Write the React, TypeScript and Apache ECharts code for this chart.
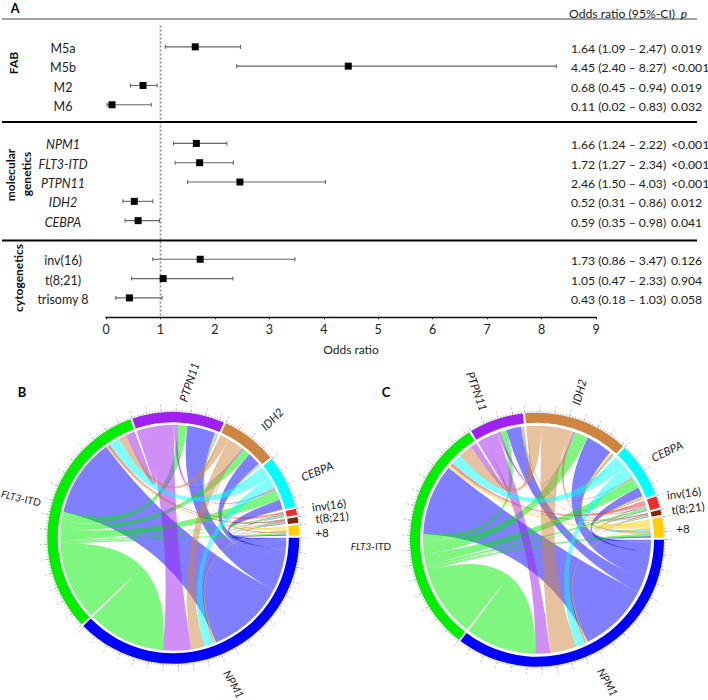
import React, { useEffect, useRef } from "react";
import * as echarts from "echarts";

// ---------- Panel A data ----------
const rowLabels = ["M5a", "M5b", "M2", "M6", "NPM1", "FLT3-ITD", "PTPN11", "IDH2", "CEBPA", "inv(16)", "t(8;21)", "trisomy 8"];
const rowSlots = [0, 1, 2, 3, 5, 6, 7, 8, 9, 11, 12, 13];
const oddsRatio = [1.64, 4.45, 0.68, 0.11, 1.66, 1.72, 2.46, 0.52, 0.59, 1.73, 1.05, 0.43];
const ciLow = [1.09, 2.4, 0.45, 0.02, 1.24, 1.27, 1.5, 0.31, 0.35, 0.86, 0.47, 0.18];
const ciHigh = [2.47, 8.27, 0.94, 0.83, 2.22, 2.34, 4.03, 0.86, 0.98, 3.47, 2.33, 1.03];
const pValues = ["0.019", "<0.001", "0.019", "0.032", "<0.001", "<0.001", "<0.001", "0.012", "0.041", "0.126", "0.904", "0.058"];
const italicRows = [4, 5, 6, 7, 8];
const fmt = (v: number) => v.toFixed(2);

// ---------- Panels B, C data ----------
const sectorNames = ["NPM1", "FLT3-ITD", "PTPN11", "IDH2", "CEBPA", "inv(16)", "t(8;21)", "+8"];
const sectorColors = ["#0000ff", "#00ee00", "#a020f0", "#cd853f", "#00ffff", "#ee2c2c", "#8b2500", "#ffd000"];
const matrixB = [
  [0, 40, 14.3, 6.7, 5, 0.3, 0.3, 0.7],
  [40, 0, 4.8, 4, 5.5, 0.8, 0.5, 0.7],
  [14.3, 4.8, 0, 0.8, 0.7, 0.2, 0.05, 0.3],
  [6.7, 4, 0.8, 0, 0.6, 0.05, 0.2, 0.4],
  [5, 5.5, 0.7, 0.6, 0, 0.05, 0.1, 0.1],
  [0.3, 0.8, 0.2, 0.05, 0.05, 0, 0, 0],
  [0.3, 0.5, 0.05, 0.2, 0.1, 0, 0, 0.2],
  [0.7, 0.7, 0.3, 0.4, 0.1, 0, 0.2, 0],
];
const matrixC = [
  [0, 36, 7.5, 13.4, 4.8, 0.4, 0.3, 0.8],
  [36, 0, 3.2, 7, 5.5, 1.2, 0.3, 1.4],
  [7.5, 3.2, 0, 0.8, 0.3, 0.3, 0.05, 0.2],
  [13.4, 7, 0.8, 0, 0.7, 0.4, 0.3, 1.3],
  [4.8, 5.5, 0.3, 0.7, 0, 0.3, 0.2, 0.8],
  [0.4, 1.2, 0.3, 0.4, 0.3, 0, 0, 0.1],
  [0.3, 0.3, 0.05, 0.3, 0.2, 0, 0, 0.02],
  [0.8, 1.4, 0.2, 1.3, 0.8, 0.1, 0.02, 0],
];

const FONT = "Lato, 'Open Sans', sans-serif";
const DEG = Math.PI / 180;

echarts.graphic.registerShape(
  "chordRibbon",
  (echarts.graphic as any).extendShape({
    shape: { cx: 0, cy: 0, r: 1, a0: 0, a1: 0, b0: 0, b1: 0 },
    buildPath(ctx: any, s: any) {
      ctx.moveTo(s.cx + s.r * Math.cos(s.a0), s.cy + s.r * Math.sin(s.a0));
      ctx.arc(s.cx, s.cy, s.r, s.a0, s.a1, false);
      ctx.quadraticCurveTo(s.cx, s.cy, s.cx + s.r * Math.cos(s.b0), s.cy + s.r * Math.sin(s.b0));
      ctx.arc(s.cx, s.cy, s.r, s.b0, s.b1, false);
      ctx.quadraticCurveTo(s.cx, s.cy, s.cx + s.r * Math.cos(s.a0), s.cy + s.r * Math.sin(s.a0));
      ctx.closePath();
    },
  })
);
echarts.graphic.registerShape(
  "tickFan",
  (echarts.graphic as any).extendShape({
    shape: { cx: 0, cy: 0, angles: [] as number[], r0: 0, r1: 0 },
    buildPath(ctx: any, s: any) {
      for (const a of s.angles) {
        ctx.moveTo(s.cx + s.r0 * Math.cos(a), s.cy + s.r0 * Math.sin(a));
        ctx.lineTo(s.cx + s.r1 * Math.cos(a), s.cy + s.r1 * Math.sin(a));
      }
    },
  })
);

type Geo = { cx: number; cy: number; R: number; r0: number; rib: number };

function layoutChord(m: number[][], gapDeg: number) {
  const n = m.length;
  const sizes = m.map((row) => 2 * row.reduce((a, b) => a + b, 0));
  const total = sizes.reduce((a, b) => a + b, 0);
  const k = (360 - gapDeg * n) / total;
  const sectors: { start: number; end: number }[] = [];
  const out: number[][][] = m.map(() => []);
  const inc: number[][][] = m.map(() => []);
  let a = 0;
  for (let i = 0; i < n; i++) {
    const start = a;
    for (let step = 1; step < n; step++) {
      const j = (i - step + n) % n;
      out[i][j] = [a, a + m[i][j] * k];
      a += m[i][j] * k;
    }
    for (let step = 1; step < n; step++) {
      const j = (i - step + n) % n;
      inc[i][j] = [a, a + m[i][j] * k];
      a += m[i][j] * k;
    }
    sectors.push({ start, end: a });
    a += gapDeg;
  }
  const links: { from: number; to: number }[] = [];
  for (let i = 0; i < n; i++) for (let j = 0; j < n; j++) if (i !== j && m[i][j] > 0) links.push({ from: i, to: j });
  return { sectors, out, inc, links };
}

function chordSeries(m: number[][], g: Geo, id: string): any[] {
  const { sectors, out, inc, links } = layoutChord(m, 1);
  const minor: number[] = [];
  const major: number[] = [];
  sectors.forEach((s) => {
    let c = 0;
    for (let a = s.start; a <= s.end; a += 1.35, c++) (c % 5 === 0 ? major : minor).push(a * DEG);
  });
  return [
    {
      type: "custom",
      id: id + "-links",
      coordinateSystem: "none",
      silent: true,
      data: links.map((l) => [l.from, l.to, m[l.from][l.to]]),
      renderItem: (p: any) => {
        const l = links[p.dataIndex];
        const A = out[l.from][l.to];
        const B = inc[l.to][l.from];
        return {
          type: "chordRibbon",
          shape: { cx: g.cx, cy: g.cy, r: g.rib, a0: A[0] * DEG, a1: A[1] * DEG, b0: B[0] * DEG, b1: B[1] * DEG },
          style: { fill: sectorColors[l.from], opacity: 0.5 },
        };
      },
    },
    {
      type: "custom",
      id: id + "-ring",
      coordinateSystem: "none",
      silent: true,
      data: sectors.map((s) => [s.start, s.end]),
      renderItem: (p: any) => {
        const s = sectors[p.dataIndex];
        return {
          type: "sector",
          shape: { cx: g.cx, cy: g.cy, r: g.R, r0: g.r0, startAngle: s.start * DEG, endAngle: s.end * DEG, clockwise: true },
          style: { fill: sectorColors[p.dataIndex] },
        };
      },
    },
    {
      type: "custom",
      id: id + "-ticks",
      coordinateSystem: "none",
      silent: true,
      data: [[0]],
      renderItem: () => ({
        type: "group",
        children: [
          { type: "tickFan", shape: { cx: g.cx, cy: g.cy, angles: minor, r0: g.R, r1: g.R + 1.8 }, style: { fill: "none", stroke: "#999", lineWidth: 0.7 } },
          { type: "tickFan", shape: { cx: g.cx, cy: g.cy, angles: major, r0: g.R, r1: g.R + 3.5 }, style: { fill: "none", stroke: "#888", lineWidth: 0.7 } },
          { type: "tickFan", shape: { cx: g.cx, cy: g.cy, angles: major, r0: g.R + 5.5, r1: g.R + 8 }, style: { fill: "none", stroke: "#ccc", lineWidth: 1 } },
        ],
      }),
    },
  ];
}

const T = (text: string, x: number, y: number, o: any = {}) => ({
  type: "text",
  x,
  y,
  rotation: ((o.rot || 0) * Math.PI) / 180,
  z: 20,
  silent: true,
  style: {
    text,
    fontFamily: FONT,
    fontSize: o.size || 11.5,
    fontWeight: o.weight || "normal",
    fontStyle: o.italic ? "italic" : "normal",
    fill: o.fill || "#222",
    align: o.align || "center",
    textAlign: o.align || "center",
    verticalAlign: "middle",
    textVerticalAlign: "middle",
    rich: o.rich,
  },
});

const flt3Rich = {
  i: { fontFamily: FONT, fontSize: 10, fontStyle: "italic", fill: "#222" },
  r: { fontFamily: FONT, fontSize: 10, fill: "#222" },
};

const rule = (y: number, w: number, c: string, x1 = 2) => ({
  type: "line",
  z: 5,
  silent: true,
  shape: { x1, y1: y, x2: 697, y2: y },
  style: { stroke: c, lineWidth: w },
});

export default function App() {
  const ref = useRef<HTMLDivElement>(null);
  useEffect(() => {
    const chart = echarts.init(ref.current!, null, { renderer: "svg" });
    const forest = oddsRatio.map((v, i) => [v, ciLow[i], ciHigh[i], rowSlots[i]]);
    chart.setOption({
      animation: false,
      backgroundColor: "#fff",
      grid: { left: 106, width: 490, top: 25.6, height: 291.6, containLabel: false },
      xAxis: {
        type: "value",
        min: 0,
        max: 9,
        interval: 1,
        splitLine: { show: false },
        axisLine: { show: true, onZero: false, lineStyle: { color: "#111", width: 1.4 } },
        axisTick: { show: true, length: 2, lineStyle: { color: "#111" } },
        axisLabel: { color: "#222", fontFamily: FONT, fontSize: 12.5, margin: 6 },
        name: "Odds ratio",
        nameLocation: "middle",
        nameGap: 26,
        nameTextStyle: { color: "#222", fontFamily: FONT, fontSize: 12 },
      },
      yAxis: { type: "value", inverse: true, min: -1.1, max: 14, show: false, splitLine: { show: false } },
      graphic: [
        rule(19, 1, "#444"),
        rule(122, 1.8, "#000"),
        rule(240.5, 1.8, "#000"),
        T("A", 15, 8, { size: 12.5, weight: "bold", fill: "#000" }),
        T("B", 22, 392, { size: 13, weight: "bold", fill: "#000" }),
        T("C", 386, 392, { size: 13, weight: "bold", fill: "#000" }),
        T("FAB", 13, 63, { rot: 90, weight: "bold", fill: "#111", size: 12 }),
        T("molecular", 10, 175, { rot: 90, weight: "bold", fill: "#111", size: 12 }),
        T("genetics", 26, 174, { rot: 90, weight: "bold", fill: "#111", size: 12 }),
        T("cytogenetics", 18, 278, { rot: 90, weight: "bold", fill: "#111", size: 12 }),
        T("Odds ratio (95%-CI)", 569, 13, { align: "left", size: 12.2 }),
        T("p", 684, 13, { italic: true, size: 12 }),
        // panel B labels
        T("PTPN11", 189, 382, { rot: 72, italic: true }),
        T("IDH2", 272, 419, { rot: 45, italic: true }),
        T("CEBPA", 317, 471, { rot: 22, italic: true }),
        T("inv(16)", 329, 505, { rot: 7 }),
        T("t(8;21)", 332, 517, { rot: 5 }),
        T("+8", 322, 532),
        T("{i|FLT3}{r|-ITD}", 21, 498, { rot: -13, rich: flt3Rich }),
        T("NPM1", 234, 684, { rot: -60, italic: true, size: 11 }),
        // panel C labels
        T("PTPN11", 477, 391, { rot: -70, italic: true }),
        T("IDH2", 579, 392, { rot: 75, italic: true }),
        T("CEBPA", 667, 451, { rot: 25, italic: true }),
        T("inv(16)", 684, 493, { rot: 7 }),
        T("t(8;21)", 688, 508, { rot: 7 }),
        T("+8", 683, 528),
        T("{i|FLT3}{r|-ITD}", 371, 546, { rich: flt3Rich }),
        T("NPM1", 608, 682, { rot: -60, italic: true, size: 11 }),
      ],
      series: [
        {
          type: "line",
          data: [[1, -1.1], [1, 14]],
          symbol: "none",
          silent: true,
          lineStyle: { color: "#888", width: 1.6, type: [2, 2] },
          z: 1,
        },
        {
          type: "custom",
          silent: true,
          z: 3,
          data: forest,
          encode: { x: [0, 1, 2], y: 3 },
          renderItem: (_p: any, api: any) => {
            const y = api.value(3);
            const c = api.coord([api.value(0), y]);
            const lo = api.coord([api.value(1), y]);
            const hi = api.coord([api.value(2), y]);
            const line = { stroke: "#666", lineWidth: 1.1 };
            return {
              type: "group",
              children: [
                { type: "line", shape: { x1: lo[0], y1: c[1], x2: hi[0], y2: c[1] }, style: line },
                { type: "line", shape: { x1: lo[0], y1: c[1] - 2, x2: lo[0], y2: c[1] + 2 }, style: line },
                { type: "line", shape: { x1: hi[0], y1: c[1] - 2, x2: hi[0], y2: c[1] + 2 }, style: line },
                { type: "rect", shape: { x: c[0] - 3.5, y: c[1] - 3.5, width: 7, height: 7 }, style: { fill: "#000" } },
              ],
            };
          },
        },
        {
          type: "custom",
          silent: true,
          z: 4,
          data: rowSlots.map((r) => [0, r]),
          encode: { x: 0, y: 1 },
          renderItem: (p: any, api: any) => {
            const i = p.dataIndex;
            const y = api.coord([0, api.value(1)])[1] + 1.6;
            const txt = (text: string, x: number, align: string, italic = false, size = 12.2) => ({
              type: "text",
              x,
              y,
              style: {
                text,
                fontFamily: FONT,
                fontSize: size,
                fontStyle: italic ? "italic" : "normal",
                fill: "#222",
                align,
                textAlign: align,
                verticalAlign: "middle",
                textVerticalAlign: "middle",
              },
            });
            return {
              type: "group",
              children: [
                txt(rowLabels[i], 63, "center", italicRows.includes(i), 12.5),
                txt(`${fmt(oddsRatio[i])} (${fmt(ciLow[i])} – ${fmt(ciHigh[i])})`, 571, "left"),
                txt(pValues[i], 671, "left"),
              ],
            };
          },
        },
        ...chordSeries(matrixB, { cx: 173.3, cy: 537.8, R: 126, r0: 115.5, rib: 113 }, "b"),
        ...chordSeries(matrixC, { cx: 537, cy: 539.7, R: 127, r0: 117, rib: 114 }, "c"),
      ],
    });
    return () => chart.dispose();
  }, []);
  return <div ref={ref} style={{ position: "fixed", left: 0, top: 0, width: 708, height: 700 }} />;
}
